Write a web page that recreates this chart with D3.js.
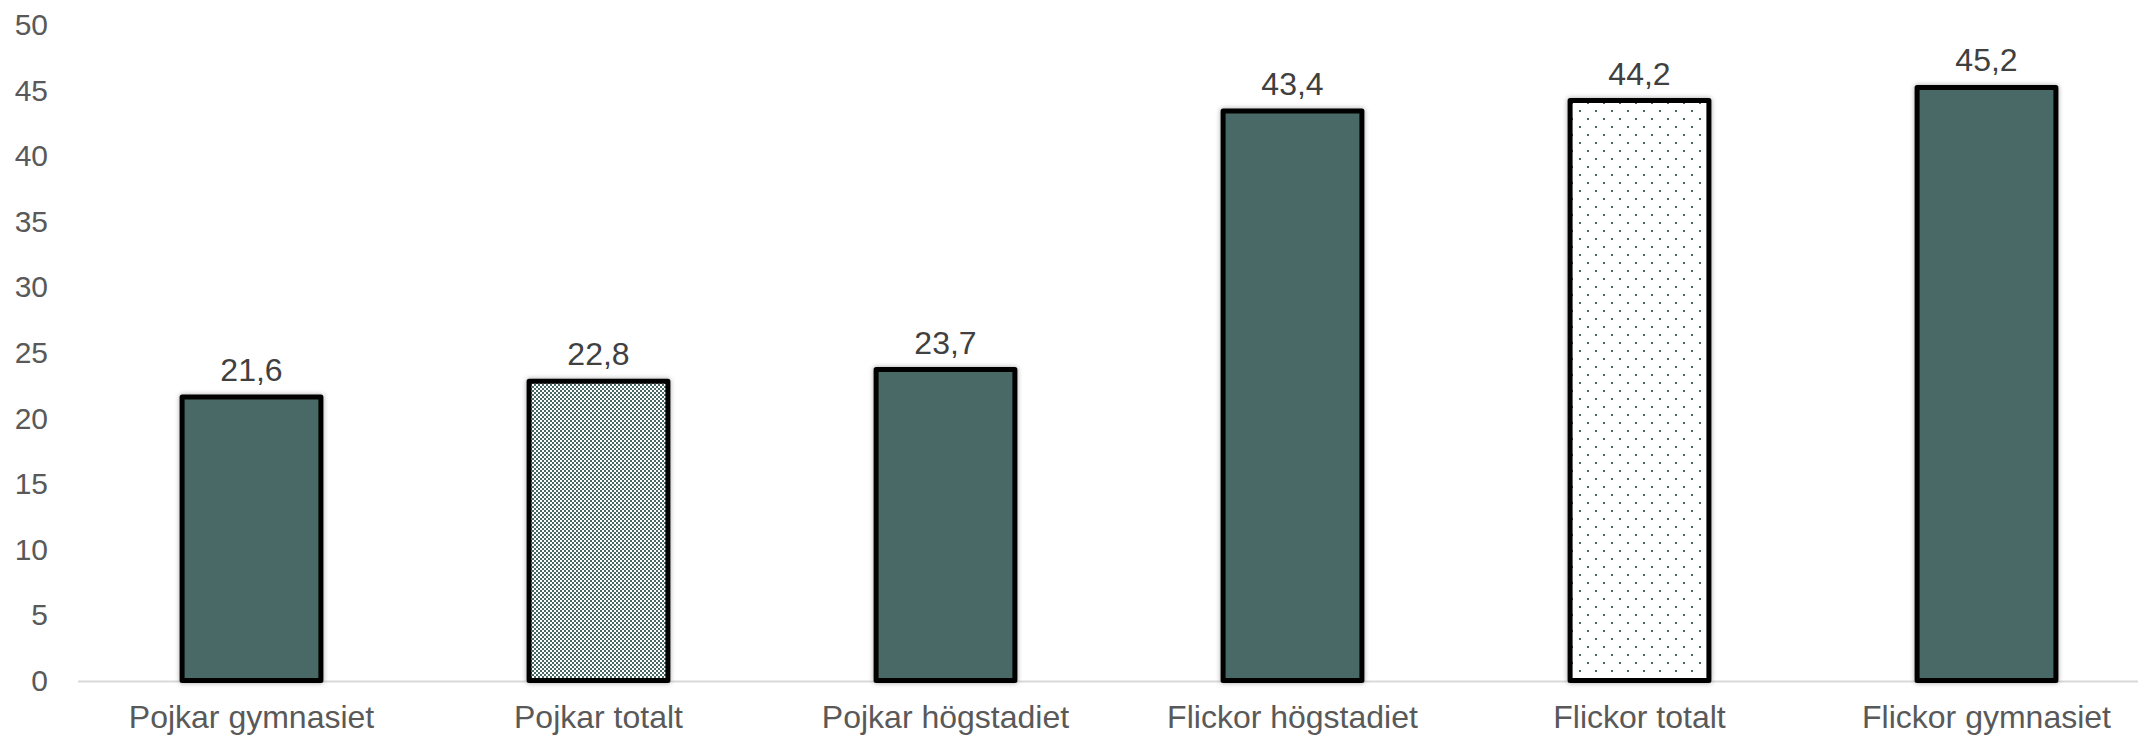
<!DOCTYPE html>
<html>
<head>
<meta charset="utf-8">
<script src="https://cdn.jsdelivr.net/npm/d3@7"></script>
<style>
  html, body { margin: 0; padding: 0; background: #fff; }
  svg { display: block; }
  text { font-family: "Liberation Sans", Arial, sans-serif; }
</style>
</head>
<body>
<svg id="chart" width="2138" height="737"></svg>
<script>
const categories = ["Pojkar gymnasiet", "Pojkar totalt", "Pojkar högstadiet", "Flickor högstadiet", "Flickor totalt", "Flickor gymnasiet"];
const values = [21.6, 22.8, 23.7, 43.4, 44.2, 45.2];
const fills = ["solid", "checker", "solid", "solid", "dots", "solid"];
const yTicks = [0, 5, 10, 15, 20, 25, 30, 35, 40, 45, 50];

const W = 2138, H = 737;
const teal = "#4A6966";
const svg = d3.select("#chart");
const defs = svg.append("defs");

// checker pattern
const pc = defs.append("pattern").attr("id", "checker").attr("patternUnits", "userSpaceOnUse")
  .attr("width", 4).attr("height", 4);
pc.append("rect").attr("width", 4).attr("height", 4).attr("fill", teal);
pc.append("rect").attr("x", 0).attr("y", 0).attr("width", 2).attr("height", 2).attr("fill", "#fff");
pc.append("rect").attr("x", 2).attr("y", 2).attr("width", 2).attr("height", 2).attr("fill", "#fff");

// dots pattern
const pd = defs.append("pattern").attr("id", "dots").attr("patternUnits", "userSpaceOnUse")
  .attr("width", 16).attr("height", 16);
pd.append("rect").attr("width", 16).attr("height", 16).attr("fill", "#fff");
pd.append("rect").attr("x", 3).attr("y", 6).attr("width", 2).attr("height", 2).attr("fill", teal);
pd.append("rect").attr("x", 11).attr("y", 14).attr("width", 2).attr("height", 2).attr("fill", teal);

// shadow
const f = defs.append("filter").attr("id", "shadow").attr("x", "-10%").attr("y", "-10%").attr("width", "120%").attr("height", "120%");
f.append("feDropShadow").attr("dx", 0).attr("dy", 0).attr("stdDeviation", 2.5)
  .attr("flood-color", "#000").attr("flood-opacity", 0.35);

const x = d3.scaleBand().domain(categories).range([78, 2160]).paddingInner(0.6).paddingOuter(0.3);
const y = d3.scaleLinear().domain([0, 50]).range([680.5, 24.5]);

// y tick labels
svg.append("g").selectAll("text").data(yTicks).join("text")
  .attr("x", 48).attr("y", d => y(d)).attr("dy", "0.35em")
  .attr("text-anchor", "end").attr("font-size", 30).attr("fill", "#595959")
  .text(d => d);

// axis baseline
svg.append("line").attr("x1", 78).attr("x2", W).attr("y1", y(0) + 1).attr("y2", y(0) + 1)
  .attr("stroke", "#d9d9d9").attr("stroke-width", 2);

// bars
const data = categories.map((c, i) => ({ c, v: values[i], f: fills[i] }));
svg.append("g").selectAll("rect").data(data).join("rect")
  .attr("x", d => x(d.c)).attr("width", x.bandwidth())
  .attr("y", d => y(d.v)).attr("height", d => y(0) - y(d.v))
  .attr("fill", d => d.f === "solid" ? teal : `url(#${d.f})`)
  .attr("stroke", "#000").attr("stroke-width", 5).attr("stroke-linejoin", "round")
  .attr("filter", "url(#shadow)");

// value labels
svg.append("g").selectAll("text").data(data).join("text")
  .attr("x", d => x(d.c) + x.bandwidth() / 2).attr("y", d => y(d.v) - 16)
  .attr("text-anchor", "middle").attr("font-size", 32).attr("fill", "#404040")
  .text(d => d3.format(".1f")(d.v).replace(".", ","));

// category labels
svg.append("g").selectAll("text").data(categories).join("text")
  .attr("x", d => x(d) + x.bandwidth() / 2).attr("y", 728)
  .attr("text-anchor", "middle").attr("font-size", 32).attr("fill", "#595959")
  .text(d => d);
</script>
</body>
</html>
